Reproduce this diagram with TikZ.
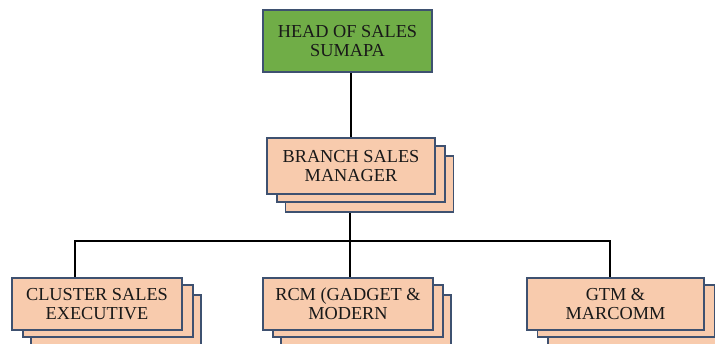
\documentclass[tikz,border=0pt]{standalone}
\usepackage{fontspec}
\setmainfont{Liberation Serif}
\definecolor{headgreen}{HTML}{70AD47}
\definecolor{peach}{HTML}{F8CBAD}
\definecolor{edge}{HTML}{3E5170}
\begin{document}
\begin{tikzpicture}[x=1pt,y=1pt,
  box/.style={draw=edge, line width=1.1pt, fill=peach, inner sep=0pt, align=center,
    font=\fontsize{18.3}{19}\selectfont, text=black!90},
  conn/.style={draw=black, line width=2.7pt}]
\useasboundingbox (0,0) rectangle (715,344);
\clip (0,0) rectangle (715,344);
% connectors
\coordinate (busL) at (75,103);
\coordinate (busM) at (350,103);
\coordinate (busR) at (610,103);
\draw[conn] (351,272) -- (351,200);
\draw[conn] (busM) -- (350,190);
\draw[conn] (busM) -- (350,60);
\draw[conn] (75,60) -- (busL) -- (busR) -- (610,60);
% head
\node[box, fill=headgreen, minimum width=169pt, minimum height=62pt] (head) at (347.5,303) {HEAD OF SALES\\SUMAPA};
% branch stack
\node[box, minimum width=168pt, minimum height=56pt] (branch3) at (369.5,160) {};
\node[box, minimum width=168pt, minimum height=56pt] (branch2) at (361,170) {};
\node[box, minimum width=168pt, minimum height=56pt] (branch) at (351,178) {BRANCH SALES\\MANAGER};
% cluster stack
\node[box, minimum width=170pt, minimum height=52pt] (cluster3) at (116,23) {};
\node[box, minimum width=170pt, minimum height=52pt] (cluster2) at (108,33) {};
\node[box, minimum width=170pt, minimum height=52pt] (cluster) at (97,40) {CLUSTER SALES\\EXECUTIVE};
% rcm stack
\node[box, minimum width=170pt, minimum height=52pt] (rcm3) at (366,23) {};
\node[box, minimum width=170pt, minimum height=52pt] (rcm2) at (358,33) {};
\node[box, minimum width=170pt, minimum height=52pt] (rcm) at (348,40) {RCM (GADGET \&\\MODERN};
% gtm stack
\node[box, minimum width=177pt, minimum height=52pt] (gtm3) at (636.5,23) {};
\node[box, minimum width=177pt, minimum height=52pt] (gtm2) at (626,33) {};
\node[box, minimum width=177pt, minimum height=52pt] (gtm) at (615.5,40) {GTM \&\\MARCOMM};
\end{tikzpicture}
\end{document}
